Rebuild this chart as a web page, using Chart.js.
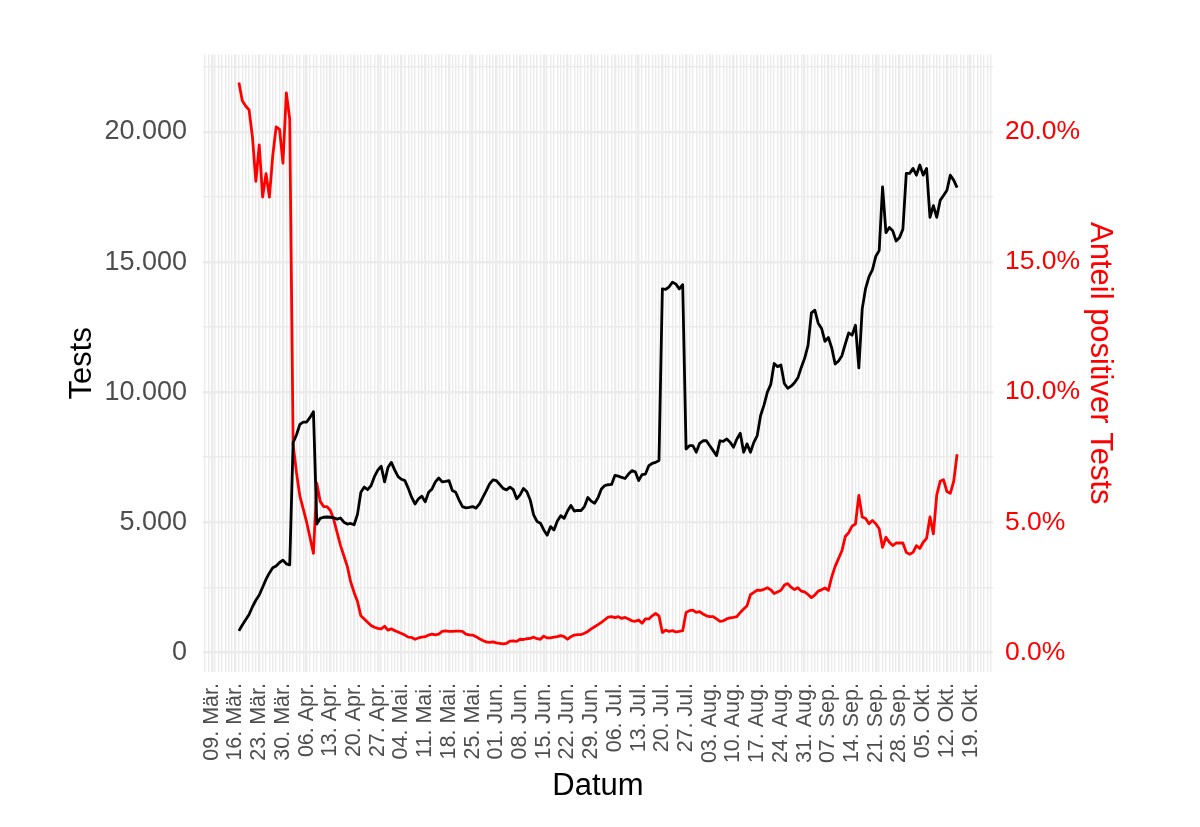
<!DOCTYPE html>
<html lang="de">
<head>
<meta charset="utf-8">
<title>Tests und Anteil positiver Tests</title>
<script src="https://cdn.jsdelivr.net/npm/chart.js@4.4.1/dist/chart.umd.min.js"></script>
<style>
  html, body { margin: 0; padding: 0; background: #fff; }
  canvas { display: block; }
</style>
</head>
<body>
<canvas id="chart" width="1200" height="827"></canvas>
<script>
// days are counted from 09. Mär. (day 0); first value is 17. Mär.
const firstDay = 8;

// weekly axis labels, one every 7 days starting at day 0
const weekLabels = [
  "09. Mär.", "16. Mär.", "23. Mär.", "30. Mär.", "06. Apr.", "13. Apr.", "20. Apr.", "27. Apr.",
  "04. Mai.", "11. Mai.", "18. Mai.", "25. Mai.", "01. Jun.", "08. Jun.", "15. Jun.", "22. Jun.",
  "29. Jun.", "06. Jul.", "13. Jul.", "20. Jul.", "27. Jul.", "03. Aug.", "10. Aug.", "17. Aug.",
  "24. Aug.", "31. Aug.", "07. Sep.", "14. Sep.", "21. Sep.", "28. Sep.", "05. Okt.", "12. Okt.",
  "19. Okt."
];

const testTicks = [0, 5000, 10000, 15000, 20000];
const shareTicks = [0, 5, 10, 15, 20];

// daily number of tests
const tests = [
  820, 1050, 1250, 1450, 1750, 2000, 2200, 2500, 2800, 3050,
  3250, 3320, 3450, 3540, 3400, 3360, 8060, 8360, 8760, 8850,
  8850, 9030, 9250, 4930, 5150, 5190, 5200, 5190, 5170, 5120,
  5160, 5000, 4930, 4950, 4900, 5300, 6150, 6350, 6250, 6400,
  6750, 7000, 7150, 6550, 7100, 7300, 7000, 6750, 6650, 6600,
  6300, 5950, 5700, 5900, 6000, 5780, 6150, 6280, 6550, 6700,
  6550, 6570, 6600, 6220, 6150, 5850, 5600, 5550, 5570, 5600,
  5540, 5700, 5950, 6200, 6470, 6630, 6600, 6450, 6300, 6240,
  6350, 6250, 5900, 6050, 6300, 6170, 5850, 5280, 5030, 4960,
  4700, 4500, 4830, 4700, 5050, 5250, 5150, 5430, 5640, 5430,
  5450, 5450, 5600, 5950, 5810, 5730, 5940, 6280, 6410, 6440,
  6450, 6800, 6770, 6720, 6680, 6850, 6980, 6940, 6600, 6830,
  6850, 7170, 7260, 7300, 7370, 13970, 13950, 14050, 14230, 14150,
  13970, 14130, 7810, 7940, 7940, 7690, 8030, 8130, 8130, 7940,
  7750, 7560, 8130, 8110, 8200, 8070, 7880, 8200, 8420, 7690,
  8010, 7690, 8070, 8330, 9100, 9500, 10000, 10300, 11100, 10980,
  11040, 10330, 10150, 10230, 10360, 10550, 10950, 11300, 11800, 13050,
  13150, 12650, 12450, 11950, 12100, 11700, 11080, 11200, 11400, 11850,
  12280, 12190, 12570, 10930, 13210, 13990, 14440, 14700, 15220, 15440,
  17890, 16130, 16330, 16200, 15810, 15940, 16260, 18410, 18410, 18600,
  18340, 18730, 18340, 18600, 16720, 17170, 16720, 17370, 17560, 17760,
  18340, 18150, 17860
];

// share of positive tests in percent
const positiveShare = [
  21.9, 21.2, 21.0, 20.85, 19.8, 18.1, 19.5, 17.5, 18.4, 17.5,
  19.1, 20.2, 20.1, 18.8, 21.5, 20.5, 8.0, 6.9, 6.0, 5.5,
  5.0, 4.4, 3.8, 6.5, 5.8, 5.6, 5.6, 5.45, 5.1, 4.6,
  4.1, 3.7, 3.3, 2.7, 2.3, 1.95, 1.4, 1.28, 1.15, 1.03,
  0.96, 0.92, 0.9, 1.0, 0.85, 0.9, 0.83, 0.78, 0.72, 0.66,
  0.58, 0.57, 0.5, 0.55, 0.58, 0.6, 0.66, 0.7, 0.67, 0.7,
  0.8, 0.82, 0.8, 0.8, 0.81, 0.81, 0.8, 0.7, 0.67, 0.66,
  0.6, 0.52, 0.45, 0.4, 0.38, 0.4, 0.36, 0.34, 0.32, 0.34,
  0.43, 0.44, 0.42, 0.5, 0.49, 0.52, 0.53, 0.58, 0.52, 0.5,
  0.62, 0.55, 0.55, 0.58, 0.6, 0.64, 0.6, 0.5, 0.6, 0.66,
  0.68, 0.68, 0.73, 0.8, 0.9, 0.98, 1.06, 1.15, 1.25, 1.35,
  1.37, 1.33, 1.37, 1.3, 1.34, 1.28, 1.21, 1.19, 1.24, 1.11,
  1.28, 1.28, 1.4, 1.49, 1.4, 0.76, 0.85, 0.8, 0.83, 0.78,
  0.8, 0.83, 1.53, 1.6, 1.62, 1.53, 1.56, 1.47, 1.4, 1.37,
  1.37, 1.28, 1.19, 1.21, 1.28, 1.32, 1.34, 1.37, 1.53, 1.66,
  1.79, 2.21, 2.3, 2.39, 2.38, 2.42, 2.48, 2.4, 2.26, 2.32,
  2.38, 2.58, 2.64, 2.5, 2.41, 2.48, 2.35, 2.32, 2.22, 2.1,
  2.2, 2.35, 2.4, 2.47, 2.38, 2.9, 3.3, 3.6, 3.9, 4.45,
  4.6, 4.85, 4.93, 6.03, 5.2, 5.14, 4.94, 5.07, 4.94, 4.75,
  4.03, 4.42, 4.23, 4.1, 4.2, 4.2, 4.2, 3.84, 3.77, 3.84,
  4.1, 3.99, 4.23, 4.38, 5.2, 4.55, 6.05, 6.57, 6.63, 6.18,
  6.11, 6.57, 7.61
];

const GRID = "#ebebeb";
const AXIS_GREY = "#4d4d4d";

Chart.defaults.font.family = "'Liberation Sans', Arial, sans-serif";

function thousands(v) {
  return String(v).replace(/\B(?=(\d{3})+(?!\d))/g, ".");
}

function toPoints(values) {
  return values.map((v, i) => ({ x: firstDay + i, y: v }));
}

const ctx = document.getElementById("chart");

new Chart(ctx, {
  type: "line",
  data: {
    datasets: [
      {
        label: "Tests",
        data: toPoints(tests),
        yAxisID: "y",
        borderColor: "#000000",
        borderWidth: 2.8,
        borderJoinStyle: "round",
        pointRadius: 0,
        tension: 0
      },
      {
        label: "Anteil positiver Tests",
        data: toPoints(positiveShare),
        yAxisID: "y1",
        borderColor: "#ff0000",
        borderWidth: 2.8,
        borderJoinStyle: "round",
        pointRadius: 0,
        tension: 0
      }
    ]
  },
  options: {
    responsive: false,
    animation: false,
    devicePixelRatio: 1,
    layout: { padding: { top: 54.5, left: 0, right: 0, bottom: 0 } },
    plugins: {
      legend: { display: false },
      tooltip: { enabled: false }
    },
    scales: {
      x: {
        type: "linear",
        min: -2.6,
        max: 230.6,
        afterBuildTicks: function (scale) {
          // one grid line per day, labels only every week
          let ticks = [];
          for (let d = Math.ceil(scale.min); d <= scale.max; d++) ticks.push({ value: d });
          scale.ticks = ticks;
        },
        afterFit: function (scale) { scale.height = 155; },
        border: { display: false },
        grid: {
          color: GRID,
          drawTicks: false,
          lineWidth: c => (c.tick && c.tick.value % 7 === 0 ? 2.4 : 1.4)
        },
        ticks: {
          autoSkip: false,
          minRotation: 90,
          maxRotation: 90,
          padding: 11,
          color: AXIS_GREY,
          font: { size: 21.5 },
          callback: function (v) {
            if (v % 7 !== 0 || v < 0) return "";
            return weekLabels[v / 7] || "";
          }
        },
        title: {
          display: true,
          text: "Datum",
          color: "#000000",
          font: { size: 31 },
          padding: { top: 0, bottom: 22.4 }
        }
      },
      y: {
        position: "left",
        min: -759,
        max: 22979,
        afterBuildTicks: function (scale) {
          // major lines at the labels, minor lines half way
          let ticks = [];
          testTicks.forEach(v => {
            ticks.push({ value: v });
            ticks.push({ value: v + 2500 });
          });
          scale.ticks = ticks;
        },
        afterFit: function (scale) { scale.width = 203; },
        border: { display: false },
        grid: {
          color: GRID,
          drawTicks: false,
          lineWidth: c => (c.tick && testTicks.includes(c.tick.value) ? 2.4 : 1.4)
        },
        ticks: {
          padding: 16,
          color: AXIS_GREY,
          font: { size: 27 },
          callback: v => (testTicks.includes(v) ? thousands(v) : "")
        },
        title: {
          display: true,
          text: "Tests",
          color: "#000000",
          font: { size: 31 },
          padding: { top: 63.4, bottom: 0 }
        }
      },
      y1: {
        position: "right",
        min: -0.759,
        max: 22.979,
        afterBuildTicks: function (scale) {
          scale.ticks = shareTicks.map(v => ({ value: v }));
        },
        afterFit: function (scale) { scale.width = 207; },
        border: { display: false },
        grid: { display: false, drawTicks: false },
        ticks: {
          padding: 12,
          color: "#ff0000",
          font: { size: 26.5 },
          callback: v => v.toFixed(1) + "%"
        },
        title: {
          display: true,
          text: "Anteil positiver Tests",
          color: "#ff0000",
          font: { size: 31 },
          padding: { top: 81.4, bottom: 0 }
        }
      }
    }
  }
});
</script>
</body>
</html>
